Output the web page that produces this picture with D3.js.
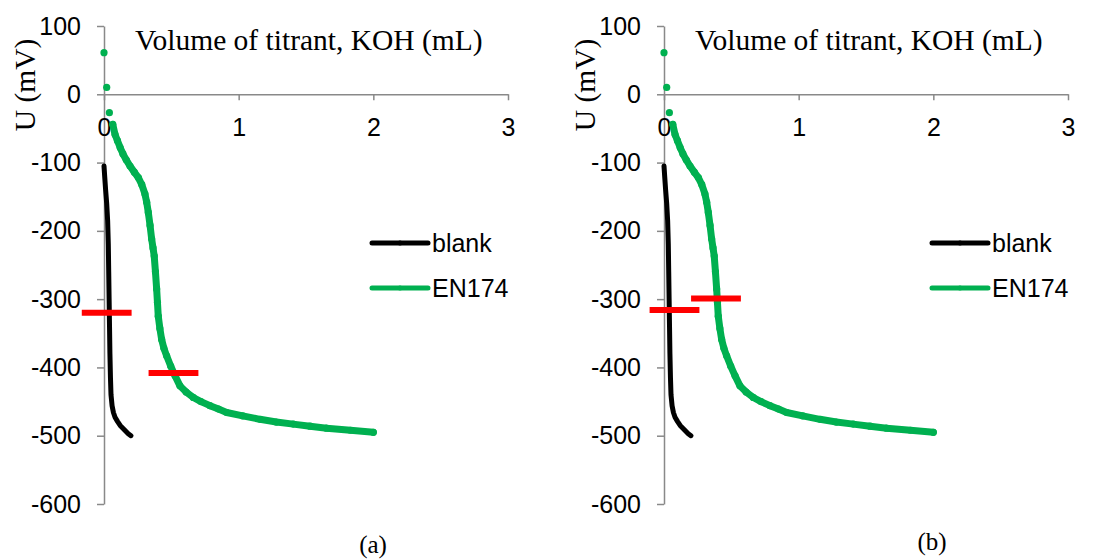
<!DOCTYPE html>
<html>
<head>
<meta charset="utf-8">
<script src="https://cdn.jsdelivr.net/npm/d3@7"></script>
<style>
  body { margin: 0; background: #fff; }
  .tick text { font-family: "Liberation Sans", Arial, sans-serif; font-size: 25px; fill: #000; }
  .serif { font-family: "Liberation Serif", "Times New Roman", serif; fill: #000; }
</style>
</head>
<body>
<svg id="chart"></svg>
<script>
// titration data, volume of KOH (mL) and potential U (mV)
const blankVolume = [0, 0.005, 0.012, 0.02, 0.027, 0.032, 0.035, 0.038, 0.041, 0.044, 0.048, 0.052, 0.06, 0.07, 0.082, 0.1, 0.12, 0.14, 0.16, 0.18, 0.2];
const blankU = [-105, -120, -140, -160, -185, -220, -260, -300, -340, -380, -415, -440, -456, -466, -473, -479, -485, -489, -493, -497, -500];

const enVolume = [0, 0.02, 0.04, 0.065, 0.082, 0.1, 0.12, 0.14, 0.165, 0.193, 0.225, 0.255, 0.28, 0.304, 0.317, 0.329, 0.342, 0.354, 0.364, 0.373, 0.382, 0.391, 0.397, 0.403, 0.415, 0.428, 0.445, 0.465, 0.495, 0.527, 0.564, 0.61, 0.663, 0.72, 0.787, 0.85, 0.911, 1.03, 1.158, 1.28, 1.405, 1.53, 1.653, 1.83, 2.0];
const enU = [61, 10, -27, -44, -59, -68, -78, -87, -96, -105, -114, -122, -132, -146, -158, -173, -192, -212, -225, -237, -260, -285, -305, -325, -343, -359, -372, -383, -398, -412, -427, -436, -444, -450, -456, -461, -466, -471, -476, -480, -483, -486, -489, -492, -495];

// red marks (end points) for each panel: volume centre and U
const marksA = [[0.02, -320], [0.516, -408]];
const marksB = [[0.078, -316], [0.386, -299]];

const xTicks = [0, 1, 2, 3];
const yTicks = [100, 0, -100, -200, -300, -400, -500, -600];
const seriesNames = ['blank', 'EN174'];
const seriesColors = ['#000000', '#00B050'];
const panelLabels = ['(a)', '(b)'];

const width = 1099;
const height = 560;
const svg = d3.select('#chart').attr('width', width).attr('height', height);

const blank = blankVolume.map((v, i) => [v, blankU[i]]);
const en = enVolume.map((v, i) => [v, enU[i]]);

//plain labels with a hyphen minus, like the spreadsheet
const plain = d => String(d);

//one panel, drawn at horizontal offset dx
function drawPanel(dx, marks, label, labelY) {
    const g = svg.append('g').attr('transform', `translate(${dx},0)`);

    const x = d3.scaleLinear().domain([0, 3]).range([104, 508]);
    const y = d3.scaleLinear().domain([-600, 100]).range([504, 26]);

    //y axis on the left
    const yAxis = g.append('g')
        .attr('transform', `translate(${x(0)},0)`)
        .call(d3.axisLeft(y).tickValues(yTicks).tickFormat(plain).tickSize(7).tickPadding(16).tickSizeOuter(0));

    //x axis crosses at U = 0
    const xAxis = g.append('g')
        .attr('transform', `translate(0,${y(0)})`)
        .call(d3.axisBottom(x).tickValues(xTicks).tickFormat(plain).tickSize(6).tickPadding(18).tickSizeOuter(0));

    [xAxis, yAxis].forEach(a => {
        a.select('.domain').attr('stroke', '#898989').attr('stroke-width', 1.5);
        a.selectAll('.tick line').attr('stroke', '#898989').attr('stroke-width', 1.5);
    });

    const line = d3.line().x(d => x(d[0])).y(d => y(d[1]));

    //blank curve
    g.append('path')
        .datum(blank)
        .attr('d', line)
        .attr('fill', 'none')
        .attr('stroke', seriesColors[0])
        .attr('stroke-width', 5)
        .attr('stroke-linecap', 'round')
        .attr('stroke-linejoin', 'round');

    //EN174 curve, the first points stand apart as single dots
    g.append('path')
        .datum(en.slice(3))
        .attr('d', line)
        .attr('fill', 'none')
        .attr('stroke', seriesColors[1])
        .attr('stroke-width', 7)
        .attr('stroke-linecap', 'round')
        .attr('stroke-linejoin', 'round');

    g.append('g')
        .selectAll('circle')
        .data(en)
        .enter()
        .append('circle')
        .attr('cx', d => x(d[0]))
        .attr('cy', d => y(d[1]))
        .attr('r', 3.6)
        .attr('fill', seriesColors[1]);

    //red marks
    g.append('g')
        .selectAll('line')
        .data(marks)
        .enter()
        .append('line')
        .attr('x1', d => x(d[0] - 0.185))
        .attr('x2', d => x(d[0] + 0.185))
        .attr('y1', d => y(d[1]))
        .attr('y2', d => y(d[1]))
        .attr('stroke', '#FF0000')
        .attr('stroke-width', 6);

    //legend
    const legend = g.append('g');
    seriesNames.forEach((name, i) => {
        const ly = 243 + i * 45;
        legend.append('line')
            .attr('x1', 372).attr('x2', 428)
            .attr('y1', ly).attr('y2', ly)
            .attr('stroke', seriesColors[i])
            .attr('stroke-width', 5)
            .attr('stroke-linecap', 'round');
        legend.append('circle')
            .attr('cx', 400).attr('cy', ly).attr('r', 2.5)
            .attr('fill', seriesColors[i]);
        legend.append('text')
            .attr('x', 432).attr('y', ly)
            .attr('dy', '0.36em')
            .style('font-family', '"Liberation Sans", Arial, sans-serif')
            .style('font-size', '25px')
            .text(name);
    });

    //axis titles
    g.append('text')
        .attr('class', 'serif')
        .attr('x', 135).attr('y', 50)
        .style('font-size', '29.5px')
        .text('Volume of titrant, KOH (mL)');

    g.append('text')
        .attr('class', 'serif')
        .attr('transform', 'translate(35,85) rotate(-90)')
        .attr('text-anchor', 'middle')
        .style('font-size', '29.5px')
        .text('U (mV)');

    //panel label
    g.append('text')
        .attr('class', 'serif')
        .attr('x', 373 + (dx ? -1 : 0)).attr('y', labelY)
        .attr('text-anchor', 'middle')
        .style('font-size', '25px')
        .text(label);
}

drawPanel(0, marksA, panelLabels[0], 553);
drawPanel(560, marksB, panelLabels[1], 550);
</script>
</body>
</html>
